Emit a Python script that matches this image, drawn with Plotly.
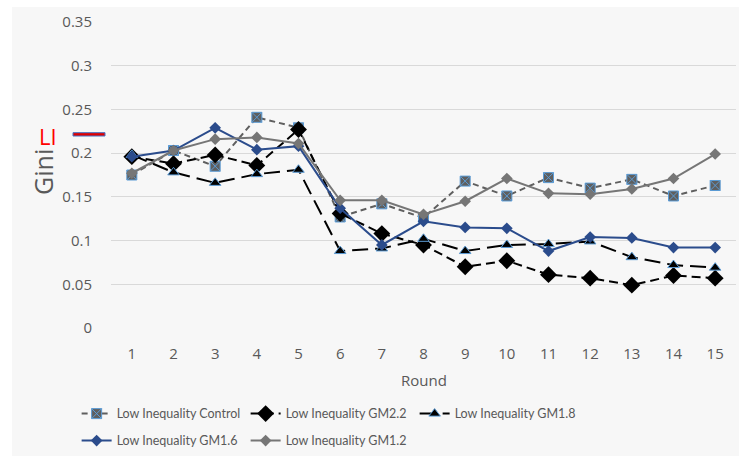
import plotly.graph_objects as go

# Gini coefficient per round for each low-inequality condition
rounds = list(range(1, 16))
control = [0.175, 0.203, 0.185, 0.241, 0.229, 0.127, 0.142, 0.126, 0.168, 0.151, 0.172, 0.160, 0.170, 0.151, 0.163]
gm22 = [0.196, 0.188, 0.198, 0.186, 0.227, 0.131, 0.108, 0.095, 0.070, 0.077, 0.061, 0.057, 0.049, 0.060, 0.057]
gm18 = [0.198, 0.178, 0.166, 0.176, 0.181, 0.088, 0.091, 0.102, 0.088, 0.095, 0.096, 0.099, 0.081, 0.072, 0.069]
gm16 = [0.196, 0.203, 0.229, 0.204, 0.208, 0.137, 0.095, 0.122, 0.115, 0.114, 0.088, 0.104, 0.103, 0.092, 0.092]
gm12 = [0.177, 0.203, 0.216, 0.218, 0.211, 0.146, 0.146, 0.130, 0.145, 0.171, 0.154, 0.153, 0.159, 0.171, 0.199]

# Reference level marked beside the y axis
li_level = 0.2215

y_ticks = [0, 0.05, 0.1, 0.15, 0.2, 0.25, 0.3, 0.35]
y_tick_text = ["0", "0.05", "0.1", "0.15", "0.2", "0.25", "0.3", "0.35"]
x_tick_text = [str(r) for r in rounds]

FONT = "Open Sans"
LEGEND_FONT = "Lato"
TXT = "#595959"
PANEL = "#f7f7f7"
OUTLINE = "#5b9bd5"

series = [
    dict(name="Low Inequality Control", y=control, legend="legend",
         line=dict(color="#5f5f5f", width=2, dash="6px,4px"),
         marker=dict(symbol="square-x", size=10, color="#5f5f5f",
                     line=dict(color=OUTLINE, width=1))),
    dict(name="Low Inequality GM2.2", y=gm22, legend="legend",
         line=dict(color="#000000", width=2, dash="9px,5px"),
         marker=dict(symbol="diamond", size=13, color="#000000",
                     line=dict(color="#000000", width=0))),
    dict(name="Low Inequality GM1.8", y=gm18, legend="legend",
         line=dict(color="#000000", width=2, dash="16px,7px"),
         marker=dict(symbol="triangle-up", size=10, color="#000000",
                     line=dict(color=OUTLINE, width=1))),
    dict(name="Low Inequality GM1.6", y=gm16, legend="legend2",
         line=dict(color="#2b4c8c", width=2),
         marker=dict(symbol="diamond", size=9, color="#2b4c8c",
                     line=dict(color="#2b4c8c", width=0))),
    dict(name="Low Inequality GM1.2", y=gm12, legend="legend2",
         line=dict(color="#767676", width=2),
         marker=dict(symbol="diamond", size=9, color="#767676",
                     line=dict(color="#767676", width=0))),
]

fig = go.Figure()
for s in series:
    fig.add_trace(go.Scatter(x=rounds, y=s["y"], name=s["name"], mode="lines+markers",
                             line=s["line"], marker=s["marker"], legend=s["legend"]))

legend_style = dict(orientation="h", x=-0.055, xanchor="left", yanchor="top",
                    entrywidth=124, font=dict(family=LEGEND_FONT, size=12.5, color=TXT),
                    bgcolor="rgba(0,0,0,0)", traceorder="normal")

fig.update_layout(
    width=739, height=456,
    margin=dict(l=111, r=3, t=22, b=128, autoexpand=False),
    paper_bgcolor="white",
    plot_bgcolor=PANEL,
    font=dict(family=FONT, size=15, color=TXT),
    showlegend=True,
    legend=dict(legend_style, y=-0.232),
    legend2=dict(legend_style, y=-0.320),
    xaxis=dict(range=[0.5, 15.5], tickmode="array", tickvals=rounds, ticktext=x_tick_text,
               showgrid=False, zeroline=False, showline=False, ticks="",
               ticklabelstandoff=15, tickfont=dict(size=15, color=TXT)),
    yaxis=dict(range=[0, 0.35], tickmode="array", tickvals=y_ticks, ticktext=y_tick_text,
               showgrid=True, gridcolor="#d9d9d9", gridwidth=1, zeroline=False,
               showline=False, ticks="", ticklabelstandoff=18,
               tickfont=dict(size=15, color=TXT)),
    shapes=[
        # light panel behind the whole chart
        dict(type="rect", xref="paper", yref="paper", x0=-0.1584, x1=1.01, y0=-0.42, y1=1.049,
             fillcolor=PANEL, line=dict(width=0), layer="below"),
        # LI reference marker
        dict(type="rect", xref="paper", yref="y", x0=-0.0608, x1=-0.0096,
             y0=li_level - 0.0019, y1=li_level + 0.0019,
             fillcolor="#e00000", line=dict(color="#4472c4", width=1)),
    ],
    annotations=[
        dict(text="Gini", xref="paper", yref="paper", x=-0.1088, y=0.51, textangle=-90,
             showarrow=False, font=dict(size=25, color=TXT), xanchor="center", yanchor="middle"),
        dict(text="LI", xref="paper", yref="paper", x=-0.1016, y=0.629,
             showarrow=False, font=dict(size=22, color="#ff0000"), xanchor="center", yanchor="middle"),
        dict(text="Round", xref="paper", yref="paper", x=0.5, y=-0.17,
             showarrow=False, font=dict(size=15, color=TXT), xanchor="center", yanchor="middle"),
    ],
)

fig.write_html("out.html")
